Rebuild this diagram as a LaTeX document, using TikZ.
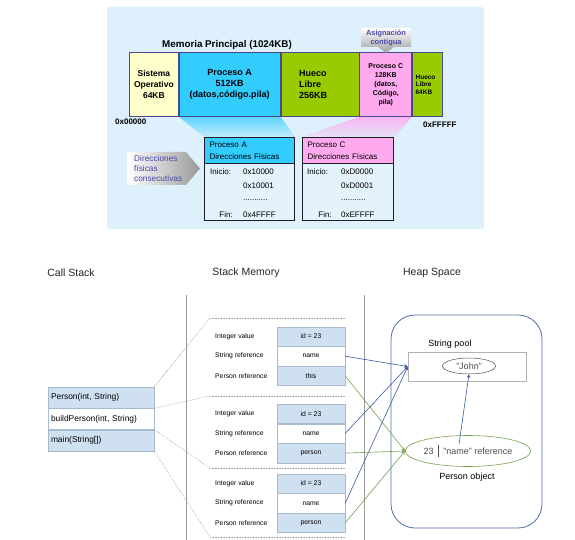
\documentclass[tikz,border=0pt]{standalone}
\usepackage{fontspec}
\setmainfont{Liberation Sans}
\usepackage{tikz}
\usetikzlibrary{shapes.geometric}

\definecolor{panelbg}{RGB}{221,240,251}
\definecolor{osyellow}{RGB}{255,255,204}
\definecolor{procblue}{RGB}{51,204,255}
\definecolor{freegreen}{RGB}{153,204,0}
\definecolor{procpink}{RGB}{255,170,238}
\definecolor{barline}{RGB}{72,72,140}
\definecolor{boxline}{RGB}{30,30,40}
\definecolor{boxbody}{RGB}{228,242,251}
\definecolor{tagblue}{RGB}{72,72,170}
\definecolor{cellblue}{RGB}{207,224,241}
\definecolor{cellline}{RGB}{168,186,206}
\definecolor{heapblue}{RGB}{78,110,165}
\definecolor{refblue}{RGB}{58,92,165}
\definecolor{refgreen}{RGB}{118,160,78}

\pgfdeclarelayer{back}
\pgfsetlayers{back,main}

\tikzset{
  seg/.style={draw=barline, line width=0.8pt, anchor=north west,
    minimum height=64pt, inner sep=1pt, align=center,
    font=\bfseries\fontsize{9}{11}\selectfont},
  addr/.style={anchor=west, inner sep=0pt, font=\bfseries\fontsize{8}{9}\selectfont},
  membox/.style={draw=boxline, line width=1.2pt, fill=boxbody,
    anchor=north west, minimum height=83pt},
  boxhead/.style={draw=boxline, line width=1.2pt, anchor=north west,
    minimum height=26pt, inner xsep=5pt, align=left,
    font=\fontsize{8}{12}\selectfont},
  rowtxt/.style={anchor=west, inner sep=0pt, font=\fontsize{8}{9}\selectfont},
  tag/.style={text=tagblue, inner sep=0pt, align=center},
  heading/.style={text=black!85, font=\fontsize{10.5}{12}\selectfont},
  sepline/.style={draw=gray!80, line width=0.8pt},
  callbox/.style={draw=cellline, text width=100pt, inner xsep=3pt,
    minimum height=21pt, align=left, font=\fontsize{8.4}{10}\selectfont},
  frameline/.style={draw=gray!75, densely dotted, line width=0.6pt},
  cell/.style={draw=cellline, fill=cellblue, minimum width=68pt,
    minimum height=19.3pt, inner sep=0pt, font=\fontsize{6.8}{8}\selectfont},
  rowlbl/.style={anchor=west, inner sep=0pt, font=\fontsize{6.8}{8}\selectfont},
  heaplbl/.style={inner sep=0pt, font=\fontsize{9}{11}\selectfont},
  refb/.style={draw=refblue, line width=0.6pt},
  refg/.style={draw=refgreen, line width=0.6pt}
}

\begin{document}
\begin{tikzpicture}[x=1pt, y=-1pt, >=stealth]
    \useasboundingbox (0,0) rectangle (575,540);

    % title of the memory bar
    \node[font=\bfseries\fontsize{9.8}{11}\selectfont] (memtitle) at (227,45)
      {Memoria Principal (1024KB)};

    % memory bar
    \node[seg, fill=osyellow, minimum width=49pt,
      font=\bfseries\fontsize{8.5}{11}\selectfont] (so) at (129,52)
      {Sistema\\Operativo\\64KB};
    \node[seg, fill=procblue, minimum width=101pt] (pa) at (so.north east)
      {Proceso A\\512KB\\(datos,código.pila)};
    \node[seg, fill=freegreen, minimum width=78pt, text width=42pt,
      inner xsep=18pt, align=left] (hl) at (pa.north east)
      {Hueco\\Libre\\256KB};
    \node[seg, fill=procpink, minimum width=52pt,
      font=\bfseries\fontsize{7}{9}\selectfont] (pc) at (hl.north east)
      {Proceso C\\128KB\\(datos,\\Código,\\pila)};
    \node[seg, fill=freegreen, minimum width=30pt, text width=24pt,
      inner xsep=3pt, align=left,
      font=\bfseries\fontsize{6.5}{7.5}\selectfont] (hl2) at (pc.north east)
      {Hueco\\Libre\\64KB};

    % first and last address
    \node[addr] (addrlo) at (115,122){0x00000};
    \node[addr] (addrhi) at (423,125){0xFFFFF};

    % contiguous allocation tag
    \shade[top color=white, bottom color=gray!75]
      (361,28) -- (411,28) -- (411,47) -- (394,47) -- (386,53)
      -- (378,47) -- (361,47) -- cycle;
    \node[tag, font=\bfseries\fontsize{7.4}{9}\selectfont] (asig) at (386,38)
      {Asignación\\contigua};

    % process A physical addresses
    \node[membox, minimum width=90pt] (boxa) at (204,137){};
    \node[boxhead, fill=procblue, text width=80pt] (boxahead) at (boxa.north west)
      {Proceso A\\Direcciones Físicas};
    \node[rowtxt] (ainicio) at (210,172){Inicio:};
    \node[rowtxt] (a1) at (243,172){0x10000};
    \node[rowtxt] (a2) at (243,186){0x10001};
    \node[rowtxt] (adots) at (243,200){...........};
    \node[rowtxt, anchor=east] (afin) at (233,215){Fin:};
    \node[rowtxt] (a3) at (243,215){0x4FFFF};

    % process C physical addresses
    \node[membox, minimum width=91pt] (boxc) at (302,137){};
    \node[boxhead, fill=procpink, text width=81pt] (boxchead) at (boxc.north west)
      {Proceso C\\Direcciones Físicas};
    \node[rowtxt] (cinicio) at (307,172){Inicio:};
    \node[rowtxt] (c1) at (341,172){0xD0000};
    \node[rowtxt] (c2) at (341,186){0xD0001};
    \node[rowtxt] (cdots) at (341,200){...........};
    \node[rowtxt, anchor=east] (cfin) at (332,215){Fin:};
    \node[rowtxt] (c3) at (341,215){0xEFFFF};

    % consecutive addresses arrow
    \shade[left color=white, right color=gray!80]
      (127,152) -- (186,152) -- (200,168.5) -- (186,185) -- (127,185) -- cycle;
    \node[tag, anchor=west, align=left, font=\fontsize{8.3}{10}\selectfont]
      (dirfis) at (134,169){Direcciones\\físicas\\consecutivas};

    \begin{pgfonlayer}{back}
      % panel
      \fill[panelbg, rounded corners=3pt] (107,7) rectangle (484,229);
      % funnels
      \shade[top color=procblue!75!panelbg, bottom color=procblue!15!panelbg]
        (pa.south west) -- (pa.south east) -- (boxa.north east)
        -- (boxa.north west) -- cycle;
      \shade[top color=procpink!85!panelbg, bottom color=procpink!20!panelbg]
        (pc.south west) -- (pc.south east) -- (boxc.north east)
        -- (boxc.north west) -- cycle;
    \end{pgfonlayer}

    % headings
    \node[heading] (hcall) at (71,273){Call Stack};
    \node[heading] (hstack) at (246,273){Stack Memory};
    \node[heading] (hheap) at (432,273){Heap Space};

    % separators
    \draw[sepline] (186,295) -- (186,540);
    \draw[sepline] (364,295) -- (364,540);

    % call stack
    \node[callbox, fill=cellblue] (cs1) at (101,397.5){Person(int, String)};
    \node[callbox, fill=white, anchor=north] (cs2) at (cs1.south)
      {buildPerson(int, String)};
    \node[callbox, fill=cellblue, anchor=north] (cs3) at (cs2.south)
      {main(String[])};

    % frame borders
    \coordinate (fr1) at (210,318);
    \coordinate (fr2) at (210,396);
    \coordinate (fr3) at (210,468);
    \coordinate (fr4) at (210,537);
    \draw[frameline] (fr1) -- ++(135,0);
    \draw[frameline] (fr2) -- ++(135,0);
    \draw[frameline] (fr3) -- ++(135,0);
    \draw[frameline] (fr4) -- ++(135,0);
    \draw[frameline] (cs1.north east) -- (fr1);
    \draw[frameline] (cs1.south east) -- (fr2);
    \draw[frameline] (cs2.south east) -- (fr3);
    \draw[frameline] (cs3.south east) -- (fr4);

    % frame 1
    \node[cell] (f1id) at (311,336.5){id = 23};
    \node[cell, fill=white, anchor=north] (f1name) at (f1id.south){name};
    \node[cell, anchor=north] (f1ref) at (f1name.south){this};
    \node[rowlbl] (l1a) at ([xshift=-96pt]f1id.center){Integer value};
    \node[rowlbl] (l1b) at ([xshift=-96pt]f1name.center){String reference};
    \node[rowlbl] (l1c) at ([xshift=-96pt]f1ref.center){Person reference};

    % frame 2
    \node[cell] (f2id) at (311,413.7){id = 23};
    \node[cell, fill=white, anchor=north] (f2name) at (f2id.south){name};
    \node[cell, anchor=north] (f2ref) at (f2name.south){person};
    \node[rowlbl] (l2a) at ([xshift=-96pt]f2id.center){Integer value};
    \node[rowlbl] (l2b) at ([xshift=-96pt]f2name.center){String reference};
    \node[rowlbl] (l2c) at ([xshift=-96pt]f2ref.center){Person reference};

    % frame 3
    \node[cell] (f3id) at (311,483.5){id = 23};
    \node[cell, fill=white, anchor=north] (f3name) at (f3id.south){name};
    \node[cell, anchor=north] (f3ref) at (f3name.south){person};
    \node[rowlbl] (l3a) at ([xshift=-96pt]f3id.center){Integer value};
    \node[rowlbl] (l3b) at ([xshift=-96pt]f3name.center){String reference};
    \node[rowlbl] (l3c) at ([xshift=-96pt]f3ref.center){Person reference};

    % heap
    \node[draw=heapblue, line width=0.8pt, rounded corners=24pt,
      minimum width=151pt, minimum height=213pt] (heap) at (466.5,421.5){};
    \node[heaplbl] (poollbl) at (450,344){String pool};
    \node[draw=gray!60, line width=0.6pt, minimum width=118pt,
      minimum height=29pt] (pool) at (467,366.5){};
    \node[ellipse, draw=gray!60!black, line width=0.5pt, text=black!70,
      minimum width=53pt, minimum height=16pt, inner sep=0pt,
      font=\fontsize{9}{11}\selectfont] (john) at (469,366){"John"};
    \node[ellipse, draw=refgreen, line width=0.6pt, text=black!70,
      minimum width=119pt, minimum height=31pt, inner sep=0pt,
      font=\fontsize{9}{11}\selectfont] (pobj) at (468,451)
      {23\enspace\rule[-0.3em]{0.6pt}{1.3em}\enspace"name" reference};
    \node[heaplbl] (pobjlbl) at (467,477){Person object};

    % references to the string pool
    \draw[refb, ->] (f1name.east) -- (pool.west);
    \draw[refb, ->] (f2name.east) -- (pool.west);
    \draw[refb, ->] (f3name.east) -- (pool.west);
    \draw[refb, ->] ([xshift=-9pt, yshift=-9pt]pobj.north) -- (john.south);

    % references to the person object
    \draw[refg, ->] (f1ref.east) -- (pobj.west);
    \draw[refg, ->] (f2ref.east) -- (pobj.west);
    \draw[refg, ->] (f3ref.east) -- (pobj.west);
\end{tikzpicture}
\end{document}
